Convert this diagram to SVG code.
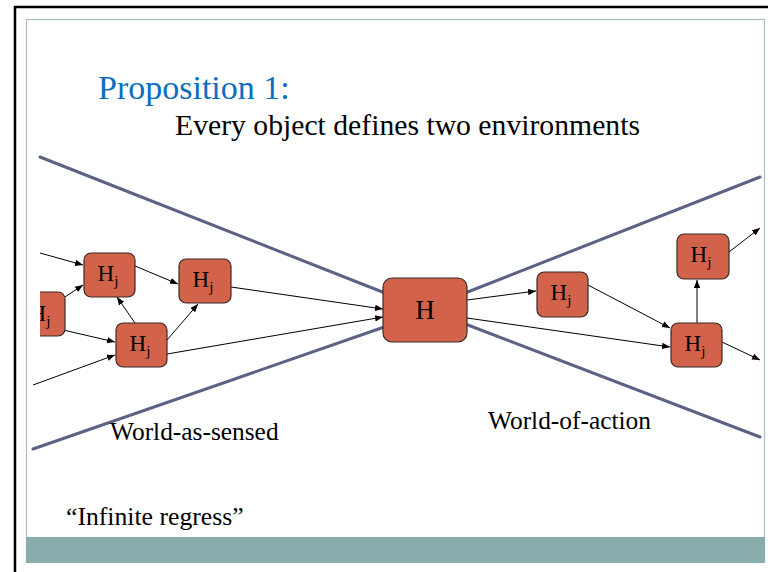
<svg xmlns="http://www.w3.org/2000/svg" width="768" height="572" viewBox="0 0 768 572">
  <style>
    .t { font-family: "Liberation Serif", "Times New Roman", serif; fill: #000; }
    .node rect { fill: #D2634A; stroke: #3A2A25; stroke-width: 1.2; }
    .funnel { stroke: #5C6283; stroke-width: 3; fill: none; stroke-linecap: round; }
    .arrow { stroke: #000; stroke-width: 1; fill: none; marker-end: url(#ah); }
  </style>
  <defs>
    <marker id="ah" viewBox="0 0 10 10" refX="10" refY="5" markerWidth="8" markerHeight="8" markerUnits="userSpaceOnUse" orient="auto">
      <path d="M0,1 L10,5 L0,9 Z" fill="#000"/>
    </marker>
    <clipPath id="leftClip">
      <rect x="40" y="0" width="728" height="572"/>
    </clipPath>
  </defs>

  <!-- slide frame -->
  <rect x="0" y="0" width="768" height="572" fill="#fff"/>
  <path d="M15,572 V7 H768" fill="none" stroke="#000" stroke-width="2.5"/>
  <rect x="26.5" y="19.5" width="738" height="543" fill="#fff" stroke="#A9C0C0" stroke-width="1.2"/>
  <rect x="26" y="537" width="739" height="26" fill="#8AACAC"/>

  <!-- titles -->
  <text class="t" x="98" y="99" font-size="34" style="fill:#0B6FC0">Proposition 1:</text>
  <text class="t" x="175" y="135" font-size="29.7">Every object defines two environments</text>

  <!-- funnel boundaries -->
  <g id="funnel">
    <line class="funnel" x1="40" y1="157" x2="390" y2="295"/>
    <line class="funnel" x1="33" y1="449" x2="390" y2="325"/>
    <line class="funnel" x1="460" y1="295" x2="760" y2="177"/>
    <line class="funnel" x1="460" y1="322" x2="760" y2="437"/>
  </g>

  <!-- connectors -->
  <g id="connectors">
    <line class="arrow" x1="40" y1="253" x2="83" y2="265"/>
    <line class="arrow" x1="65" y1="297" x2="83" y2="285"/>
    <line class="arrow" x1="59" y1="329" x2="115" y2="342"/>
    <line class="arrow" x1="33" y1="385" x2="115" y2="355"/>
    <line class="arrow" x1="135" y1="266" x2="178" y2="284"/>
    <line class="arrow" x1="135" y1="323" x2="117" y2="297"/>
    <line class="arrow" x1="167" y1="340" x2="198" y2="304"/>
    <line class="arrow" x1="231" y1="287" x2="383" y2="309"/>
    <line class="arrow" x1="167" y1="354" x2="383" y2="317"/>
    <line class="arrow" x1="467" y1="300" x2="536" y2="291"/>
    <line class="arrow" x1="467" y1="318" x2="670" y2="347"/>
    <line class="arrow" x1="588" y1="285" x2="670" y2="328"/>
    <line class="arrow" x1="697" y1="323" x2="697" y2="280"/>
    <line class="arrow" x1="729" y1="252" x2="760" y2="228"/>
    <line class="arrow" x1="722" y1="342" x2="760" y2="360"/>
  </g>

  <!-- nodes -->
  <g id="node-H" class="node">
    <rect x="383" y="278" width="84" height="64" rx="9"/>
    <text class="t" x="425" y="319" font-size="27" text-anchor="middle">H</text>
  </g>
  <g id="node-left-edge" class="node" clip-path="url(#leftClip)">
    <rect x="14" y="292" width="51" height="44" rx="7"/>
    <text class="t" x="40" y="321" font-size="23" text-anchor="middle">H<tspan font-size="15" dy="5">j</tspan></text>
  </g>
  <g id="node-a" class="node">
    <rect x="84" y="253" width="51" height="44" rx="7"/>
    <text class="t" x="108" y="281" font-size="23" text-anchor="middle">H<tspan font-size="15" dy="5">j</tspan></text>
  </g>
  <g id="node-b" class="node">
    <rect x="179" y="259" width="52" height="44" rx="7"/>
    <text class="t" x="203" y="287" font-size="23" text-anchor="middle">H<tspan font-size="15" dy="5">j</tspan></text>
  </g>
  <g id="node-c" class="node">
    <rect x="116" y="323" width="51" height="44" rx="7"/>
    <text class="t" x="140" y="351" font-size="23" text-anchor="middle">H<tspan font-size="15" dy="5">j</tspan></text>
  </g>
  <g id="node-e" class="node">
    <rect x="537" y="272" width="51" height="45" rx="7"/>
    <text class="t" x="561" y="300" font-size="23" text-anchor="middle">H<tspan font-size="15" dy="5">j</tspan></text>
  </g>
  <g id="node-f" class="node">
    <rect x="677" y="234" width="52" height="45" rx="7"/>
    <text class="t" x="701" y="262" font-size="23" text-anchor="middle">H<tspan font-size="15" dy="5">j</tspan></text>
  </g>
  <g id="node-g" class="node">
    <rect x="671" y="323" width="51" height="44" rx="7"/>
    <text class="t" x="695" y="351" font-size="23" text-anchor="middle">H<tspan font-size="15" dy="5">j</tspan></text>
  </g>

  <!-- region labels -->
  <text class="t" x="110" y="440" font-size="25.4">World-as-sensed</text>
  <text class="t" x="488" y="429" font-size="25.4">World-of-action</text>
  <text class="t" x="66" y="525" font-size="25.7">“Infinite regress”</text>
</svg>
